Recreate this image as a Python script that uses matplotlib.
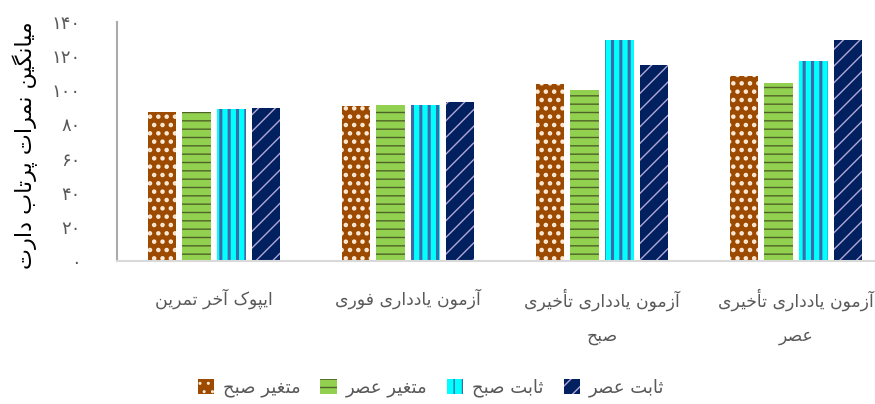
import matplotlib
matplotlib.use("Agg")
import matplotlib.pyplot as plt
import numpy as np

# -------------------------------------------------------------------------
# Data
# -------------------------------------------------------------------------
categories = [
    "ایپوک آخر تمرین",
    "آزمون یادداری فوری",
    "آزمون یادداری تأخیری\nصبح",
    "آزمون یادداری تأخیری\nعصر",
]
series_names = ["متغیر صبح", "متغیر عصر", "ثابت صبح", "ثابت عصر"]
var_morning = [87.5, 90.8, 103.7, 108.4]
var_evening = [87.3, 91.4, 100.2, 104.1]
fix_morning = [88.9, 91.4, 129.5, 117.2]
fix_evening = [89.6, 93.3, 115.0, 129.5]
y_ticks = [0, 20, 40, 60, 80, 100, 120, 140]
y_label = "میانگین نمرات پرتاب دارت"

# -------------------------------------------------------------------------
# Minimal Persian shaping (matplotlib has no RTL / joining support)
# forms: (isolated, final, initial, medial)
# -------------------------------------------------------------------------
FORMS = {
    'ا': (0xFE8D, 0xFE8E, None, None), 'آ': (0xFE81, 0xFE82, None, None),
    'أ': (0xFE83, 0xFE84, None, None), 'د': (0xFEA9, 0xFEAA, None, None),
    'ذ': (0xFEAB, 0xFEAC, None, None), 'ر': (0xFEAD, 0xFEAE, None, None),
    'ز': (0xFEAF, 0xFEB0, None, None), 'و': (0xFEED, 0xFEEE, None, None),
    'ب': (0xFE8F, 0xFE90, 0xFE91, 0xFE92), 'ت': (0xFE95, 0xFE96, 0xFE97, 0xFE98),
    'ث': (0xFE99, 0xFE9A, 0xFE9B, 0xFE9C), 'ج': (0xFE9D, 0xFE9E, 0xFE9F, 0xFEA0),
    'ح': (0xFEA1, 0xFEA2, 0xFEA3, 0xFEA4), 'خ': (0xFEA5, 0xFEA6, 0xFEA7, 0xFEA8),
    'س': (0xFEB1, 0xFEB2, 0xFEB3, 0xFEB4), 'ش': (0xFEB5, 0xFEB6, 0xFEB7, 0xFEB8),
    'ص': (0xFEB9, 0xFEBA, 0xFEBB, 0xFEBC), 'ض': (0xFEBD, 0xFEBE, 0xFEBF, 0xFEC0),
    'ط': (0xFEC1, 0xFEC2, 0xFEC3, 0xFEC4), 'ظ': (0xFEC5, 0xFEC6, 0xFEC7, 0xFEC8),
    'ع': (0xFEC9, 0xFECA, 0xFECB, 0xFECC), 'غ': (0xFECD, 0xFECE, 0xFECF, 0xFED0),
    'ف': (0xFED1, 0xFED2, 0xFED3, 0xFED4), 'ق': (0xFED5, 0xFED6, 0xFED7, 0xFED8),
    'ل': (0xFEDD, 0xFEDE, 0xFEDF, 0xFEE0), 'م': (0xFEE1, 0xFEE2, 0xFEE3, 0xFEE4),
    'ن': (0xFEE5, 0xFEE6, 0xFEE7, 0xFEE8), 'ه': (0xFEE9, 0xFEEA, 0xFEEB, 0xFEEC),
    'پ': (0xFB56, 0xFB57, 0xFB58, 0xFB59), 'چ': (0xFB7A, 0xFB7B, 0xFB7C, 0xFB7D),
    'ک': (0xFB8E, 0xFB8F, 0xFB90, 0xFB91), 'گ': (0xFB92, 0xFB93, 0xFB94, 0xFB95),
    'ی': (0xFBFC, 0xFBFD, 0xFBFE, 0xFBFF),
}


def joins_next(ch):
    return ch in FORMS and FORMS[ch][2] is not None


def shape_line(line):
    out = []
    for i, ch in enumerate(line):
        if ch not in FORMS:
            out.append(ch)
            continue
        prev_ch = line[i - 1] if i > 0 else ''
        next_ch = line[i + 1] if i + 1 < len(line) else ''
        after = joins_next(prev_ch)
        before = joins_next(ch) and next_ch in FORMS
        iso, fin, ini, med = FORMS[ch]
        if after and before:
            code = med
        elif after:
            code = fin
        elif before:
            code = ini
        else:
            code = iso
        out.append(chr(code))
    return ''.join(out)[::-1]


def fa(text):
    return '\n'.join(shape_line(l) for l in text.split('\n'))


def fa_digits(n):
    return ''.join(chr(0x06F0 + int(d)) for d in str(n))


# -------------------------------------------------------------------------
# Plot
# -------------------------------------------------------------------------
plt.rcParams['font.family'] = ['DejaVu Sans']

fig = plt.figure(figsize=(8.75, 4.04), dpi=100)
ax = fig.add_axes([117 / 875, 143 / 404, 776 / 875, 239 / 404])

values = [var_morning, var_evening, fix_morning, fix_evening]
faces = ['#9C4A00', '#92D050', '#00FFFF', '#002060']
hatch_cols = ['#FDEBD8', '#4F6228', '#3E6BA8', '#B4A7D6']
hatches = ['..', '--', '||', '//']
hatch_lw = [2.0, 1.0, 2.2, 1.0]

x = np.arange(len(categories))
width = 0.145
step = 0.18
for i, vals in enumerate(values):
    pos = x + (i - 1.5) * step
    with plt.rc_context({'hatch.linewidth': hatch_lw[i]}):
        ax.bar(pos, vals, width, color=faces[i], edgecolor=hatch_cols[i],
               hatch=hatches[i], linewidth=0, label=fa(series_names[i]))

ax.set_xlim(-0.5, len(categories) - 0.5)
ax.set_ylim(0, 140)
ax.set_yticks(y_ticks)
ax.set_yticklabels([fa_digits(v) for v in y_ticks])
ax.set_xticks(x)
ax.set_xticklabels([fa(c) for c in categories], linespacing=2.1)
ax.tick_params(axis='y', length=0, pad=26, labelsize=13, labelcolor='#595959')
ax.tick_params(axis='x', length=0, pad=20, labelsize=12.4, labelcolor='#595959')
# keep the right-most label inside the figure
ax.get_xticklabels()[-1].set_x(len(categories) - 1 - 0.03)

for side in ['top', 'right']:
    ax.spines[side].set_visible(False)
ax.spines['left'].set_color('#ABABAB')
ax.spines['left'].set_linewidth(1.5)
ax.spines['bottom'].set_color('#D9D9D9')
ax.spines['bottom'].set_linewidth(1.5)

fig.text(25 / 875, 1 - 145 / 404, fa(y_label), rotation=90, fontsize=16,
         ha='center', va='center', color='black')

ax.legend(loc='center', bbox_to_anchor=(431 / 875, 1 - 388 / 404),
          bbox_transform=fig.transFigure, ncol=4, frameon=False,
          fontsize=13, labelcolor='#595959', handlelength=0.9,
          handleheight=0.9, columnspacing=1.1, handletextpad=0.5)

fig.savefig('out.png', dpi=100)
